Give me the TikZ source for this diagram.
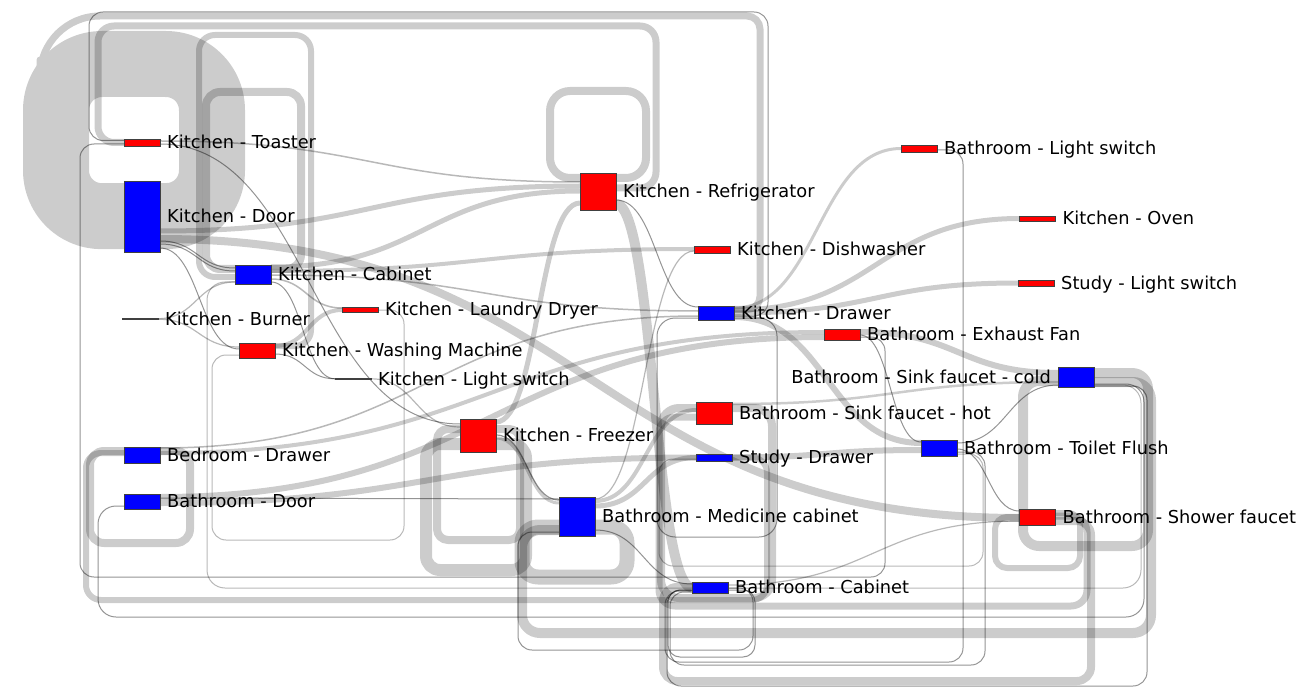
\documentclass[tikz,border=0pt]{standalone}
\usepackage{fontspec}
\setmainfont{DejaVu Sans}
\usetikzlibrary{calc}
\pgfdeclarelayer{bgl}\pgfdeclarelayer{links}
\pgfsetlayers{bgl,links,main}
\newcommand\fwl[6][]{\draw[lk,line width=#2,#1] let \p1=($(#3.north east)+(0,#4)$), \p2=($(#5.north west)+(0,#6)$) in (\p1) .. controls ({(\x1+\x2)/2},\y1) and ({(\x1+\x2)/2},\y2) .. (\p2);}
\newcommand\bkl[9][]{\coordinate (bS) at ($(#3.north east)+(0,#4)$);\coordinate (bT) at ($(#8.north west)+(0,#9)$);\coordinate (bP) at (#7,0);\draw[lk,line width=#2,#1] (bS) -| (#5,#6) -| (bP |- bT) -- (bT);}
\tikzset{
 lk/.style={draw=black,draw opacity=0.2,line cap=butt,line join=round},
 dk/.style={draw opacity=0.42},
 lt/.style={draw opacity=0.28},
 nd/.style={draw=black!75,line width=0.6,inner sep=0pt,outer sep=0pt,minimum width=36},
 lbl/.style={font=\fontsize{17.8}{20}\selectfont,inner sep=0pt,anchor=base west}
}
\begin{document}
\begin{tikzpicture}[x=1pt,y=-1pt]
\begin{pgfonlayer}{bgl}
\fill[white] (0,0) rectangle (1305,700);
\end{pgfonlayer}
\useasboundingbox (0,0) rectangle (1305,700);
% nodes
\node[nd,fill=red,minimum height=7] (toaster) at (142,142.5) {};
\node[nd,fill=blue,minimum height=71] (door) at (142,216.5) {};
\node[nd,fill=blue,minimum height=19] (cab) at (253,274.5) {};
\node[nd,fill=red,minimum height=1.2] (burner) at (140,319) {};
\node[nd,fill=red,minimum height=5] (dryer) at (360,309.5) {};
\node[nd,fill=red,minimum height=15] (washer) at (257,350.5) {};
\node[nd,fill=red,minimum height=1.6] (klight) at (353,378.8) {};
\node[nd,fill=red,minimum height=33] (freezer) at (478,435.5) {};
\node[nd,fill=blue,minimum height=16] (bdrawer) at (142,455) {};
\node[nd,fill=blue,minimum height=15] (bdoor) at (142,501.5) {};
\node[nd,fill=red,minimum height=37] (fridge) at (598,191.5) {};
\node[nd,fill=red,minimum height=7] (dish) at (712,249.5) {};
\node[nd,fill=blue,minimum height=14] (kdrawer) at (716,313) {};
\node[nd,fill=red,minimum height=22] (sinkhot) at (714,413) {};
\node[nd,fill=blue,minimum height=7] (sdrawer) at (714,457.5) {};
\node[nd,fill=blue,minimum height=39] (medcab) at (577,516.5) {};
\node[nd,fill=blue,minimum height=11] (bcab) at (710,587.5) {};
\node[nd,fill=red,minimum height=7] (blight) at (919,148.5) {};
\node[nd,fill=red,minimum height=5] (oven) at (1037.5,218.5) {};
\node[nd,fill=red,minimum height=6] (slight) at (1036,283) {};
\node[nd,fill=red,minimum height=11] (fan) at (842,334.5) {};
\node[nd,fill=blue,minimum height=20] (sinkcold) at (1076,377) {};
\node[nd,fill=blue,minimum height=16] (toilet) at (939,448) {};
\node[nd,fill=red,minimum height=16] (shower) at (1037.5,517) {};
% labels
\node[lbl] (toasterL) at ($(toaster.east)+(7,6.3)$) {Kitchen - Toaster};
\node[lbl] (doorL) at ($(door.east)+(7,6.3)$) {Kitchen - Door};
\node[lbl] (cabL) at ($(cab.east)+(7,6.3)$) {Kitchen - Cabinet};
\node[lbl] (burnerL) at ($(burner.east)+(7,6.3)$) {Kitchen - Burner};
\node[lbl] (dryerL) at ($(dryer.east)+(7,6.3)$) {Kitchen - Laundry Dryer};
\node[lbl] (washerL) at ($(washer.east)+(7,6.3)$) {Kitchen - Washing Machine};
\node[lbl] (klightL) at ($(klight.east)+(7,6.3)$) {Kitchen - Light switch};
\node[lbl] (freezerL) at ($(freezer.east)+(7,6.3)$) {Kitchen - Freezer};
\node[lbl] (bdrawerL) at ($(bdrawer.east)+(7,6.3)$) {Bedroom - Drawer};
\node[lbl] (bdoorL) at ($(bdoor.east)+(7,6.3)$) {Bathroom - Door};
\node[lbl] (fridgeL) at ($(fridge.east)+(7,6.3)$) {Kitchen - Refrigerator};
\node[lbl] (dishL) at ($(dish.east)+(7,6.3)$) {Kitchen - Dishwasher};
\node[lbl] (kdrawerL) at ($(kdrawer.east)+(7,6.3)$) {Kitchen - Drawer};
\node[lbl] (sinkhotL) at ($(sinkhot.east)+(7,6.3)$) {Bathroom - Sink faucet - hot};
\node[lbl] (sdrawerL) at ($(sdrawer.east)+(7,6.3)$) {Study - Drawer};
\node[lbl] (medcabL) at ($(medcab.east)+(7,6.3)$) {Bathroom - Medicine cabinet};
\node[lbl] (bcabL) at ($(bcab.east)+(7,6.3)$) {Bathroom - Cabinet};
\node[lbl] (blightL) at ($(blight.east)+(7,6.3)$) {Bathroom - Light switch};
\node[lbl] (ovenL) at ($(oven.east)+(7,6.3)$) {Kitchen - Oven};
\node[lbl] (slightL) at ($(slight.east)+(7,6.3)$) {Study - Light switch};
\node[lbl] (fanL) at ($(fan.east)+(7,6.3)$) {Bathroom - Exhaust Fan};
\node[lbl,anchor=base east] (sinkcoldL) at ($(sinkcold.west)+(-7,6.3)$) {Bathroom - Sink faucet - cold};
\node[lbl] (toiletL) at ($(toilet.east)+(7,6.3)$) {Bathroom - Toilet Flush};
\node[lbl] (showerL) at ($(shower.east)+(7,6.3)$) {Bathroom - Shower faucet};
% links
\begin{pgfonlayer}{links}
\begin{scope}[transparency group,opacity=0.2]
\draw[black,line width=66,line cap=butt,line join=round,rounded corners=46] ($(door.north east)+(0,35)$) -- (212,216.5) -- (212,64) -- (56,64) -- (56,216.5) -- ($(door.north west)+(0,35)$);
\draw[black,line width=7,line cap=butt,line join=round,rounded corners=13] ($(kdrawer.north east)+(0,3.5)$) -- (760,309.5) -- (760,16) -- (400,16) [rounded corners=60] -- (40,16) -- (40,120) [rounded corners=14] -- (40,190) -- ($(door.north west)+(0,9)$);
\end{scope}
\bkl[rounded corners=16]{7}{fridge}{15}{656}{26}{98}{toaster}{3.5}
\bkl[dk,rounded corners=14]{1}{kdrawer}{10}{768}{12}{89}{toaster}{1.5}
\bkl[rounded corners=20]{8}{fridge}{5}{646}{91}{550}{fridge}{5}
\bkl[rounded corners=14]{8}{cab}{4}{301}{92}{206}{cab}{4}
\bkl[rounded corners=16]{6}{washer}{3}{311}{35}{199}{cab}{12}
\bkl[rounded corners=16]{10}{sinkcold}{6}{1148}{546}{1023}{sinkcold}{14}
\bkl[rounded corners=12]{6}{shower}{4}{1080}{568}{995}{shower}{8}
\bkl[rounded corners=14]{8}{bdrawer}{4}{190}{543}{90}{bdrawer}{4}
\bkl[rounded corners=11]{8}{freezer}{10}{520}{540}{437}{freezer}{10}
\bkl[rounded corners=14]{12}{freezer}{25}{526}{570}{426}{freezer}{25}
\bkl[rounded corners=16]{15}{medcab}{30}{627}{577}{522}{medcab}{30}
\bkl[rounded corners=18]{8}{sinkhot}{6}{772}{598}{661}{sinkhot}{6}
\bkl[dk,rounded corners=18]{1}{kdrawer}{12}{777}{537}{657}{kdrawer}{12}
\bkl[rounded corners=16]{7}{shower}{7}{1087}{606}{659}{sinkhot}{15}
\bkl[rounded corners=14]{8}{shower}{12}{1091}{681}{663}{bcab}{5}
\bkl[rounded corners=15]{6}{sdrawer}{3.5}{767}{600}{86}{bdrawer}{6}
\bkl[rounded corners=18]{10}{sinkcold}{15}{1151}{633}{522}{medcab}{33}
\bkl[dk,rounded corners=18]{1}{sinkcold}{17}{1144}{617}{98}{bdoor}{12}
\bkl[dk,lt,rounded corners=18]{1}{sinkcold}{18}{1141}{588}{207}{cab}{17}
\bkl[dk,rounded corners=14]{1}{sinkcold}{19}{1147}{686}{667}{bcab}{8}
\bkl[dk,rounded corners=14]{1}{fan}{8}{885}{577}{80}{toaster}{5}
\bkl[dk,rounded corners=14]{1}{blight}{5}{963}{662}{665}{bcab}{9}
\bkl[dk,rounded corners=14]{1}{toilet}{12}{985}{665}{670}{bcab}{10}
\bkl[dk,lt,rounded corners=14]{1}{toilet}{14}{983}{566}{659}{sdrawer}{5}
\bkl[dk,rounded corners=14]{1}{bcab}{6}{753}{650}{518}{medcab}{35}
\bkl[dk,rounded corners=12]{1}{bcab}{8}{755}{657}{668}{bcab}{8}
\bkl[dk,lt,rounded corners=14]{1}{dryer}{3}{404}{540}{212}{washer}{12}
% forward links
\fwl[lt]{1.5}{toaster}{2}{fridge}{9}
\fwl[dk]{1}{toaster}{5}{freezer}{5}
\fwl[dk]{1}{door}{60}{cab}{3}
\fwl[dk]{1}{door}{63}{cab}{6}
\fwl[dk]{1}{door}{67}{washer}{6}
\fwl{8}{door}{58}{shower}{9}
\fwl{5}{door}{50}{fridge}{13}
\fwl{5}{cab}{2}{fridge}{18}
\fwl{4}{cab}{6}{dish}{3}
\fwl[lt]{1.5}{cab}{10}{kdrawer}{5}
\fwl[lt]{1.5}{cab}{14}{dryer}{1}
\fwl[dk]{1}{cab}{17}{klight}{0.8}
\fwl[lt]{1.2}{burner}{0.3}{cab}{17}
\fwl[lt]{1.2}{burner}{0.8}{washer}{4}
\fwl{4}{washer}{3}{dryer}{3}
\fwl[dk]{1}{washer}{11}{klight}{0.8}
\fwl[lt]{1.2}{klight}{0.8}{freezer}{8}
\fwl{5}{freezer}{3}{fridge}{30}
\fwl[dk]{1.2}{freezer}{16}{medcab}{3}
\fwl{3}{freezer}{19}{medcab}{6}
\fwl[lt]{1.5}{bdrawer}{1}{kdrawer}{10}
\fwl{4}{bdrawer}{6}{fan}{3}
\fwl{6}{bdoor}{3}{fan}{8}
\fwl{6}{bdoor}{9}{sdrawer}{3.5}
\fwl[dk]{1}{bdoor}{4}{medcab}{2}
\fwl[dk]{1}{fridge}{27}{kdrawer}{1}
\fwl{10}{fridge}{31}{bcab}{5.5}
\fwl{3}{kdrawer}{2}{blight}{3.5}
\fwl{5}{kdrawer}{4}{oven}{2.5}
\fwl{5}{kdrawer}{7}{slight}{3}
\fwl{6}{kdrawer}{11}{toilet}{3}
\fwl[lt]{1.2}{medcab}{2}{dish}{5}
\fwl{4}{medcab}{4}{sinkhot}{8}
\fwl{5}{medcab}{9}{sdrawer}{3.5}
\fwl[dk]{1}{medcab}{33}{bcab}{2}
\fwl{2.5}{sinkhot}{2}{sinkcold}{15}
\fwl{6}{sdrawer}{3.5}{toilet}{10}
\fwl{6}{fan}{3}{sinkcold}{6}
\fwl[dk]{1}{fan}{6}{toilet}{2}
\fwl[dk]{1}{toilet}{3}{sinkcold}{18}
\fwl[dk]{1}{toilet}{9}{shower}{2}
\fwl[lt]{1.2}{bcab}{3}{shower}{12}
\end{pgfonlayer}
\end{tikzpicture}
\end{document}
